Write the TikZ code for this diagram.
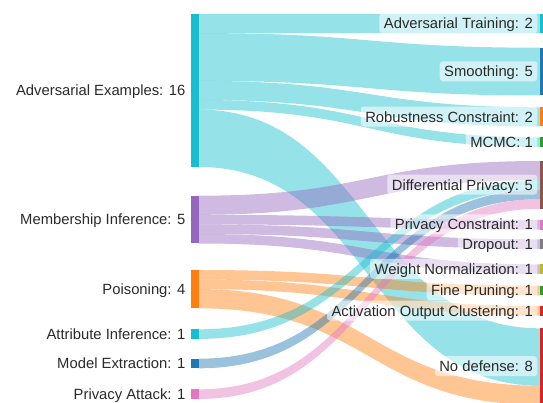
\documentclass[tikz,border=0pt]{standalone}
\usepackage{fontspec}
\setmainfont{Liberation Sans}
\usepackage{tikz}

\definecolor{cyanD}{HTML}{17BECF}
\definecolor{blueD}{HTML}{1F77B4}
\definecolor{orangeD}{HTML}{FF7F0E}
\definecolor{greenD}{HTML}{2CA02C}
\definecolor{redD}{HTML}{D62728}
\definecolor{purpleD}{HTML}{9467BD}
\definecolor{brownD}{HTML}{8C564B}
\definecolor{pinkD}{HTML}{E377C2}
\definecolor{grayD}{HTML}{7F7F7F}
\definecolor{oliveD}{HTML}{BCBD22}
\definecolor{labeltext}{HTML}{2A2A2A}

\begin{document}
\begin{tikzpicture}[x=1pt,y=-1pt,
  font=\fontsize{14.8}{17}\selectfont,
  flow/.style={fill=#1,fill opacity=0.45},
  leftlabel/.style={anchor=base east,inner sep=0pt,text=labeltext},
  rightlabel/.style={anchor=base east,fill=white,fill opacity=0.55,text opacity=1,
    text=labeltext,rounded corners=3pt,inner xsep=4.5pt,inner ysep=0pt,
    text height=15.5pt,text depth=4.5pt}]
\useasboundingbox (0,0) rectangle (543,403);

\fill[flow=cyanD] (199,14) .. controls (369.5,14) and (369.5,14) .. (540,14) -- (540,33.1) .. controls (369.5,33.1) and (369.5,33.1) .. (199,33.1) -- cycle;
\fill[flow=cyanD] (199,33.1) .. controls (369.5,33.1) and (369.5,47.7) .. (540,47.7) -- (540,95.5) .. controls (369.5,95.5) and (369.5,80.9) .. (199,80.9) -- cycle;
\fill[flow=cyanD] (199,80.9) .. controls (369.5,80.9) and (369.5,107.3) .. (540,107.3) -- (540,126.4) .. controls (369.5,126.4) and (369.5,100) .. (199,100) -- cycle;
\fill[flow=cyanD] (199,100) .. controls (369.5,100) and (369.5,137.3) .. (540,137.3) -- (540,146.9) .. controls (369.5,146.9) and (369.5,109.6) .. (199,109.6) -- cycle;
\fill[flow=cyanD] (199,109.6) .. controls (369.5,109.6) and (369.5,328.3) .. (540,328.3) -- (540,385.7) .. controls (369.5,385.7) and (369.5,167) .. (199,167) -- cycle;

\fill[flow=purpleD] (199,195.7) .. controls (369.5,195.7) and (369.5,161) .. (540,161) -- (540,180.1) .. controls (369.5,180.1) and (369.5,214.8) .. (199,214.8) -- cycle;
\fill[flow=purpleD] (199,214.8) .. controls (369.5,214.8) and (369.5,220) .. (540,220) -- (540,229.6) .. controls (369.5,229.6) and (369.5,224.4) .. (199,224.4) -- cycle;
\fill[flow=purpleD] (199,224.4) .. controls (369.5,224.4) and (369.5,239.3) .. (540,239.3) -- (540,248.9) .. controls (369.5,248.9) and (369.5,234) .. (199,234) -- cycle;
\fill[flow=purpleD] (199,234) .. controls (369.5,234) and (369.5,264.3) .. (540,264.3) -- (540,273.9) .. controls (369.5,273.9) and (369.5,243.5) .. (199,243.5) -- cycle;

\fill[flow=orangeD] (199,270) .. controls (369.5,270) and (369.5,285.7) .. (540,285.7) -- (540,295.3) .. controls (369.5,295.3) and (369.5,279.6) .. (199,279.6) -- cycle;
\fill[flow=orangeD] (199,279.6) .. controls (369.5,279.6) and (369.5,306) .. (540,306) -- (540,315.6) .. controls (369.5,315.6) and (369.5,289.1) .. (199,289.1) -- cycle;
\fill[flow=orangeD] (199,289.1) .. controls (369.5,289.1) and (369.5,385.7) .. (540,385.7) -- (540,404.8) .. controls (369.5,404.8) and (369.5,308.3) .. (199,308.3) -- cycle;

\fill[flow=cyanD] (199,329.3) .. controls (369.5,329.3) and (369.5,180.1) .. (540,180.1) -- (540,189.7) .. controls (369.5,189.7) and (369.5,338.9) .. (199,338.9) -- cycle;
\fill[flow=blueD] (199,358.7) .. controls (369.5,358.7) and (369.5,189.7) .. (540,189.7) -- (540,199.2) .. controls (369.5,199.2) and (369.5,368.3) .. (199,368.3) -- cycle;
\fill[flow=pinkD] (199,389.3) .. controls (369.5,389.3) and (369.5,199.2) .. (540,199.2) -- (540,208.8) .. controls (369.5,208.8) and (369.5,398.9) .. (199,398.9) -- cycle;

\fill[cyanD] (191,14) rectangle (199,167);
\fill[purpleD] (191,195.7) rectangle (199,243.5);
\fill[orangeD] (191,270) rectangle (199,308.3);
\fill[cyanD] (191,329.3) rectangle (199,338.9);
\fill[blueD] (191,358.7) rectangle (199,368.3);
\fill[pinkD] (191,389.3) rectangle (199,398.9);

\fill[cyanD] (540,14) rectangle (548,33.1);
\fill[blueD] (540,47.7) rectangle (548,95.5);
\fill[orangeD] (540,107.3) rectangle (548,126.4);
\fill[greenD] (540,137.3) rectangle (548,146.9);
\fill[brownD] (540,161) rectangle (548,208.8);
\fill[pinkD] (540,220) rectangle (548,229.6);
\fill[grayD] (540,239.3) rectangle (548,248.9);
\fill[oliveD] (540,264.3) rectangle (548,273.9);
\fill[greenD] (540,285.7) rectangle (548,295.3);
\fill[redD] (540,306) rectangle (548,315.6);
\fill[redD] (540,328.3) rectangle (548,404.8);

\node[leftlabel] (advex) at (185.5,95.7) {Adversarial Examples: 16};
\node[leftlabel] (memb) at (185.5,224.8) {Membership Inference: 5};
\node[leftlabel] (pois) at (185.5,294.3) {Poisoning: 4};
\node[leftlabel] (attrinf) at (185.5,339.3) {Attribute Inference: 1};
\node[leftlabel] (modext) at (185.5,368.7) {Model Extraction: 1};
\node[leftlabel] (privatt) at (185.5,399.3) {Privacy Attack: 1};

\node[rightlabel] (advtrain) at (537.5,28.7) {Adversarial Training: 2};
\node[rightlabel] (smooth) at (537.5,76.8) {Smoothing: 5};
\node[rightlabel] (robust) at (537.5,122.1) {Robustness Constraint: 2};
\node[rightlabel] (mcmc) at (537.5,147.3) {MCMC: 1};
\node[rightlabel] (diffpriv) at (537.5,190.1) {Differential Privacy: 5};
\node[rightlabel] (privcons) at (537.5,230) {Privacy Constraint: 1};
\node[rightlabel] (dropout) at (537.5,249.3) {Dropout: 1};
\node[rightlabel] (weightnorm) at (537.5,274.3) {Weight Normalization: 1};
\node[rightlabel] (finepr) at (537.5,295.7) {Fine Pruning: 1};
\node[rightlabel] (actclust) at (537.5,316) {Activation Output Clustering: 1};
\node[rightlabel] (nodef) at (537.5,371.7) {No defense: 8};
\end{tikzpicture}
\end{document}
